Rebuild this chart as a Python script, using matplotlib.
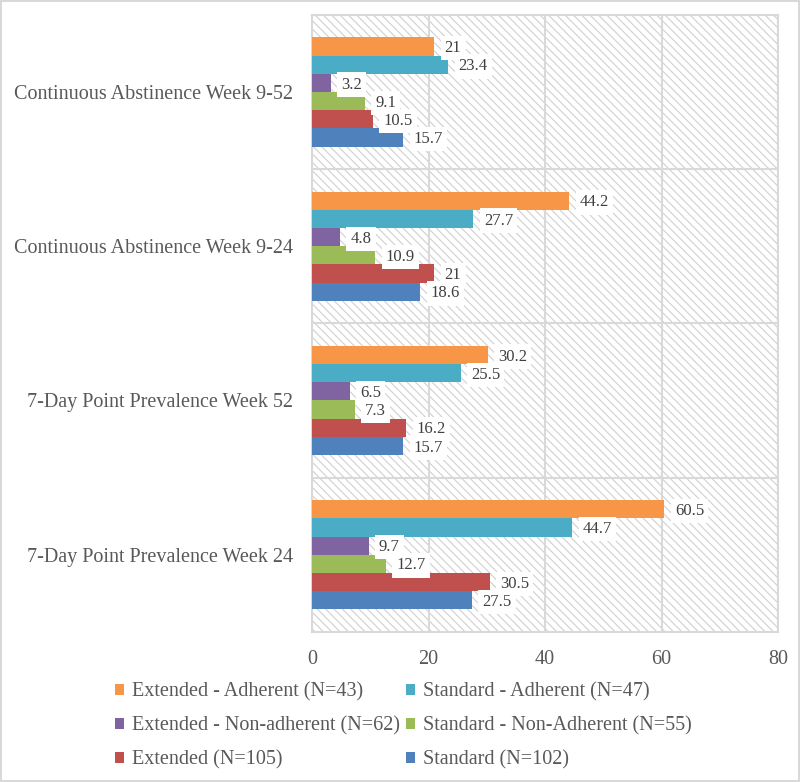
import matplotlib
matplotlib.use("Agg")
import matplotlib.pyplot as plt
from matplotlib.patches import Rectangle, Patch

plt.rcParams['font.family'] = ['Liberation Serif', 'DejaVu Serif']
plt.rcParams['hatch.linewidth'] = 0.8
plt.rcParams['hatch.color'] = '#d0d0d0'

categories = ["7-Day Point Prevalence Week 24", "7-Day Point Prevalence Week 52",
              "Continuous Abstinence Week 9-24", "Continuous Abstinence Week 9-52"]
series_names = ["Extended - Adherent (N=43)", "Standard - Adherent (N=47)",
                "Extended - Non-adherent (N=62)", "Standard - Non-Adherent (N=55)",
                "Extended (N=105)", "Standard (N=102)"]
ext_adherent = [60.5, 30.2, 44.2, 21]
std_adherent = [44.7, 25.5, 27.7, 23.4]
ext_nonadherent = [9.7, 6.5, 4.8, 3.2]
std_nonadherent = [12.7, 7.3, 10.9, 9.1]
extended = [30.5, 16.2, 21, 10.5]
standard = [27.5, 15.7, 18.6, 15.7]
series = [ext_adherent, std_adherent, ext_nonadherent, std_nonadherent, extended, standard]
colors = ["#F79646", "#4BACC6", "#8064A2", "#9BBB59", "#C0504D", "#4F81BD"]

fig = plt.figure(figsize=(8, 7.82), dpi=100)
fig.patch.set_edgecolor('#d9d9d9')
fig.patch.set_linewidth(1.5)
ax = fig.add_axes([0.39, 0.192, 0.5825, 0.789])

bg = Rectangle((0, 0), 1, 1, transform=ax.transAxes, facecolor='white',
               edgecolor='#d0d0d0', hatch='\\\\\\\\', linewidth=0, zorder=0)
ax.add_patch(bg)

h = 0.118
n = len(series)
for j, (vals, c) in enumerate(zip(series, colors)):
    off = (n - 1) / 2 * h - j * h
    ys = [i + off for i in range(len(categories))]
    ax.barh(ys, vals, height=h, color=c, zorder=3)
    for y, v in zip(ys, vals):
        ax.annotate(f"{v:g}", xy=(v, y), xytext=(7.5, -1.2), textcoords='offset points',
                    va='center', ha='left', fontsize=12, color='#404040', zorder=4,
                    bbox=dict(facecolor='white', edgecolor='none', pad=3))

ax.set_xlim(0, 80)
ax.set_ylim(-0.5, len(categories) - 0.5)
ax.set_xticks([0, 20, 40, 60, 80])
ax.set_yticks(range(len(categories)))
ax.set_yticklabels(categories)
for x in [20, 40, 60, 80]:
    ax.axvline(x, color='#d9d9d9', lw=1.5, zorder=1)
for y in [0.5, 1.5, 2.5]:
    ax.axhline(y, color='#d9d9d9', lw=1.5, zorder=1)
for s in ax.spines.values():
    s.set_color('#d9d9d9')
    s.set_linewidth(1.5)
ax.tick_params(axis='both', length=0, labelsize=14.5, labelcolor='#595959')
ax.tick_params(axis='x', pad=13)
ax.tick_params(axis='y', pad=13.7)

order = [0, 2, 4, 1, 3, 5]
handles = [Patch(facecolor=colors[k], edgecolor='none') for k in order]
labels = [series_names[k] for k in order]
fig.legend(handles, labels, ncol=2, loc='upper left', bbox_to_anchor=(0.144, 0.127),
           frameon=False, fontsize=14.5, labelcolor='#595959', handlelength=0.45,
           handleheight=0.45, handletextpad=0.4, columnspacing=0.3, labelspacing=0.72,
           borderpad=0, borderaxespad=0)

fig.savefig("out.png", dpi=100)
